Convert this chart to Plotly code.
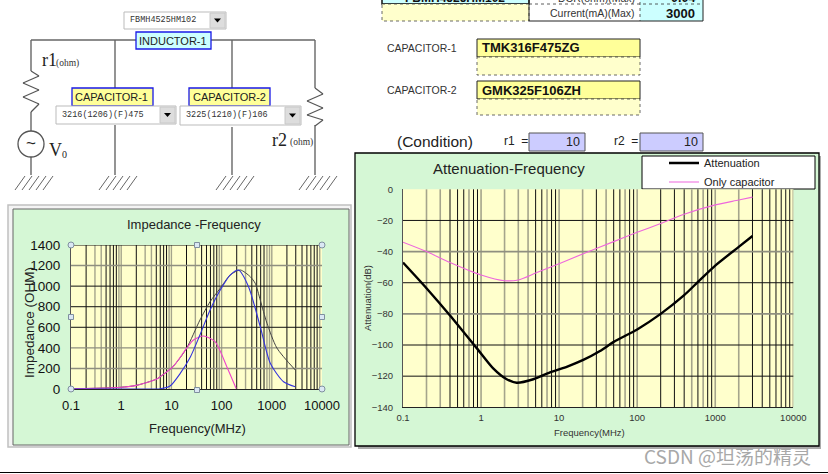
import plotly.graph_objects as go

W, H = 828, 474

# Impedance chart data
imp_z_freq = [0.1, 0.2, 0.5, 1, 2, 5, 6, 11, 20, 37, 59, 94, 148, 235, 372, 468, 589, 800, 1265, 2930]
imp_z = [2, 5, 10, 17, 35, 95, 120, 223, 395, 670, 849, 979, 1108, 1157, 1092, 1027, 865, 640, 398, 185]
imp_r_freq = [0.1, 1, 3, 6, 9.4, 15, 24, 37, 59, 94, 148, 217, 344, 589, 932, 1714, 2930]
imp_r = [0, 0, 0, 3, 29, 152, 314, 525, 768, 962, 1108, 1157, 995, 606, 250, 71, 22]
imp_x_freq = [0.1, 0.2, 0.5, 1, 2, 5, 6, 11, 20, 27.5, 43.6, 74, 127, 195]
imp_x = [2, 5, 10, 17, 35, 95, 120, 223, 395, 476, 515, 460, 217, 5]

# Attenuation chart data
att_total_freq = [0.1, 0.2, 0.4, 0.88, 1.43, 2.13, 2.86, 4.67, 7.64, 12.5, 20.4, 33.4, 50, 100, 200, 400, 600, 1000, 2000, 3000]
att_total = [-47, -63.5, -81, -102, -115, -122, -124.2, -122, -117.6, -114, -109.6, -103.9, -98, -90, -80, -68, -59.5, -49, -37, -30]
att_cap_freq = [0.1, 0.2, 0.4, 1, 2, 3, 5, 10, 20, 50, 100, 200, 400, 1000, 2000, 3000]
att_cap = [-34, -40, -47, -55, -58.7, -58.2, -53.8, -47.8, -41.5, -33.6, -27.6, -22, -16, -10, -6.9, -5]

imp_yticks = [0, 200, 400, 600, 800, 1000, 1200, 1400]
att_yticks = [0, -20, -40, -60, -80, -100, -120, -140]
x_ticks = [0.1, 1, 10, 100, 1000, 10000]
x_ticklabels = ["0.1", "1", "10", "100", "1000", "10000"]

# Grid lines: dark and faded (as they appear in the downsampled screenshot)
imp_grid_dark = [0.2, 0.5, 0.6, 0.7, 0.8, 2, 5, 6, 7, 8, 20, 40, 50, 60, 70, 80, 200, 400, 500, 600, 700, 2000, 3000, 4000, 5000, 6000, 7000, 8000]
imp_grid_soft = [0.3, 0.4, 0.9, 1, 3, 4, 9, 10, 30, 90, 100, 300, 800, 900, 1000, 9000]
imp_h_dark = [600, 800, 1000, 1400]
imp_h_soft = [200, 400, 1200]
att_grid_dark = [0.4, 0.5, 0.6, 0.8, 0.9, 5, 6, 8, 9, 30, 50, 60, 80, 90, 200, 300, 400, 600, 800, 900, 3000, 4000, 5000, 6000, 7000, 8000, 9000]
att_grid_soft = [0.2, 0.3, 0.7, 1, 2, 3, 4, 7, 10, 20, 40, 70, 100, 500, 700, 1000, 2000, 10000]
att_h_dark = [-20, -60, -100, -120]
att_h_soft = [-40, -80]

def px(x): return x / W
def py(y): return 1 - y / H

shapes, notes = [], []

def rect(x0, y0, x1, y1, fill=None, line="#000000", width=1, dash=None, layer="below"):
    shapes.append(dict(type="rect", xref="paper", yref="paper", x0=px(x0), x1=px(x1), y0=py(y0), y1=py(y1),
                       fillcolor=fill or "rgba(0,0,0,0)", layer=layer,
                       line=dict(color=line if width else "rgba(0,0,0,0)", width=width, dash=dash or "solid")))

def seg(x0, y0, x1, y1, color="#666666", width=1.4, layer="below", dash="solid"):
    shapes.append(dict(type="line", xref="paper", yref="paper", x0=px(x0), x1=px(x1), y0=py(y0), y1=py(y1),
                       layer=layer, line=dict(color=color, width=width, dash=dash)))

def poly(points, color="#555555", width=1.2):
    for (a, b), (c, d) in zip(points, points[1:]):
        seg(a, b, c, d, color, width)

def text(x, y, s, size=10, color="#222222", font="Liberation Sans", anchor="center", rot=0):
    notes.append(dict(xref="paper", yref="paper", x=px(x), y=py(y), text=s, showarrow=False, textangle=rot,
                      xanchor=anchor, yanchor="middle", font=dict(size=size, color=color, family=font)))

def ground(x):
    for i in range(5):
        a = x - 15 + i * 7
        seg(a + 9, 176, a - 1, 190, "#666666", 1)

def dropdown(x0, y0, x1, y1, s):
    rect(x0, y0, x1, y1, "#ffffff", "#bbbbbb", 1)
    rect(x1 - 16, y0 + 1, x1 - 1, y1 - 1, "#dddddd", "#c8c8c8", 1)
    shapes.append(dict(type="path", xref="paper", yref="paper", fillcolor="#000000", line=dict(width=0),
                       path=f"M {px(x1-12)} {py((y0+y1)/2-2)} L {px(x1-5)} {py((y0+y1)/2-2)} L {px(x1-8.5)} {py((y0+y1)/2+2)} Z"))
    text(x0 + 4, (y0 + y1) / 2, s, 8.5, "#333333", "Liberation Mono", "left")

# --- schematic ---
seg(31, 40, 315, 40)
seg(31, 40, 31, 71); seg(31, 112, 31, 131); seg(31, 156, 31, 175)
seg(115, 40, 115, 88); seg(115, 125, 115, 175)
seg(232, 40, 232, 88); seg(232, 127, 232, 175)
seg(315, 40, 315, 88); seg(315, 125, 315, 175)
poly([(31, 71), (39, 76), (23, 83), (39, 90), (23, 97), (39, 104), (31, 112)])
poly([(315, 88), (323, 94), (307, 101), (323, 108), (307, 115), (323, 120), (315, 126)])
shapes.append(dict(type="circle", xref="paper", yref="paper", x0=px(18), x1=px(44), y0=py(157), y1=py(131),
                   fillcolor="#ffffff", line=dict(color="#555555", width=1.3)))
for gx in (31, 115, 232, 315):
    ground(gx)
text(31, 143, "~", 17, "#222222", "Liberation Sans")
text(40, 60, "r1", 18, "#222222", "Liberation Serif", "left")
text(54, 63, "(ohm)", 9.5, "#333333", "Liberation Serif", "left")
text(47, 150, "V", 18, "#222222", "Liberation Serif", "left")
text(60, 154, "0", 10, "#222222", "Liberation Serif", "left")
text(270, 140, "r2", 18, "#222222", "Liberation Serif", "left")
text(288, 142, "(ohm)", 9.5, "#333333", "Liberation Serif", "left")

dropdown(124, 12, 226, 29, "FBMH4525HM102")
rect(136, 32, 211, 49, "#ccffff", "#1a1ae6", 1.3)
text(173, 41, "INDUCTOR-1", 11, "#222222")
rect(72, 88, 153, 106, "#ffff99", "#1a1ae6", 1.3)
text(112, 97, "CAPACITOR-1", 11, "#222222")
rect(189, 88, 270, 106, "#ffff99", "#1a1ae6", 1.3)
text(229, 97, "CAPACITOR-2", 11, "#222222")
dropdown(56, 106, 176, 124, "3216(1206)(F)475")
dropdown(180, 106, 301, 125, "3225(1210)(F)106")

# --- top-right cells ---
rect(382, -8, 529, 4, "#ccffff", "#000000", 1.4)
text(455, -2, "<b>FBMH4525HM102</b>", 12, "#111111", anchor="center")
rect(382, 4, 529, 21, "#ffffcc", "#444444", 0.8, "dot")
rect(640, -10, 703, 4, "#ccffff", None, 0)
rect(640, 4, 703, 21, "#ccffff", None, 0)
rect(529, -10, 703, 21, None, "#222222", 1)
seg(529, 4, 703, 4, "#333333", 0.8, dash="dot")
seg(640, -10, 640, 21, "#333333", 0.8, dash="dot")
text(637, -2, "DCR(ohm)(Max)", 10.5, "#333333", anchor="right")
text(697, -2, "<b>0.04</b>", 12.5, "#111111", anchor="right")
text(637, 13, "Current(mA)(Max)", 10.5, "#333333", anchor="right")
text(697, 13, "<b>3000</b>", 13, "#111111", anchor="right")
for y0, y1, y2, lab, val in [(39, 57, 75, "CAPACITOR-1", "TMK316F475ZG"), (81, 99, 115, "CAPACITOR-2", "GMK325F106ZH")]:
    rect(477, y0, 640, y1, "#ffff99", "#222222", 1)
    rect(477, y1, 640, y2, "#ffffcc", "#444444", 0.8, "dot")
    text(385, (y0 + y1) / 2, lab, 10.5, "#333333", anchor="left")
    text(480, (y0 + y1) / 2, f"<b>{val}</b>", 13, "#111111", anchor="left")
text(395, 141, "(Condition)", 15.5, "#222222", anchor="left")
text(502, 141, "r1&nbsp;&nbsp;=", 12, "#222222", anchor="left")
text(612, 141, "r2&nbsp;&nbsp;=", 12, "#222222", anchor="left")
rect(529, 133, 585, 151, "#ccccff", "#555555", 1)
rect(640, 133, 703, 151, "#ccccff", "#555555", 1)
text(582, 142, "10", 12.5, "#222222", anchor="right")
text(700, 142, "10", 12.5, "#222222", anchor="right")

# --- chart frames ---
rect(8, 205, 351, 447, "#f4f4f4", "#c0c0c0", 1.5)
rect(13, 209, 349, 445, "#d5f7d5", "#666666", 1)
rect(358, 156, 821, 449, "#aaaaaa", None, 0)
rect(355, 153, 819, 446, "#d5f7d5", "#000000", 1.3)
rect(642, 156, 815, 189, "#ffffff", "#000000", 1)
seg(0, 472.5, 828, 472.5, "#000000", 1.2)

# --- plot-area fills drawn behind the grid ---
shapes.append(dict(type="rect", xref="paper", yref="paper", x0=px(71), x1=px(322), y0=py(389), y1=py(245), fillcolor="#ffffcc", layer="below", line=dict(width=0)))
shapes.append(dict(type="rect", xref="paper", yref="paper", x0=px(403), x1=px(793.3), y0=py(407.3), y1=py(189.3), fillcolor="#ffffcc", layer="below", line=dict(width=0)))

# --- chart gridlines ---
def grids(dark_v, soft_v, dark_h, soft_h, xa, ya, soft_w):
    for vals, c, w in ((soft_v, "#a5a58c", soft_w), (dark_v, "#111111", 1)):
        for v in vals:
            shapes.append(dict(type="line", xref=xa, yref=ya + " domain", x0=v, x1=v, y0=0, y1=1,
                               layer="below", line=dict(color=c, width=w)))
    for vals, c, w in ((soft_h, "#8f8f80", soft_w), (dark_h, "#111111", 1)):
        for v in vals:
            shapes.append(dict(type="line", xref=xa + " domain", yref=ya, x0=0, x1=1, y0=v, y1=v,
                               layer="below", line=dict(color=c, width=w)))

grids(imp_grid_dark, imp_grid_soft, imp_h_dark, imp_h_soft, "x", "y", 1.4)
grids(att_grid_dark, att_grid_soft, att_h_dark, att_h_soft, "x2", "y2", 1.6)

# --- chart texts ---
text(194, 224, "Impedance -Frequency", 13, "#222222")
text(197, 428, "Frequency(MHz)", 13, "#222222")
text(29, 323, "Impedance (OHM)", 13.5, "#222222", rot=-90)
text(509, 168, "Attenuation-Frequency", 15, "#222222")
text(589, 432, "Frequency(MHz)", 9.5, "#333333")
text(367, 298, "Attenuation(dB)", 9.5, "#333333", rot=-90)
text(727, 455, "CSDN @坦荡的精灵", 19, "#a8a8a8", "Noto Sans CJK SC")

# --- selection handles (on top) ---
for hx, hy in [(71, 245), (322, 245), (71, 389), (322, 389)]:
    shapes.append(dict(type="circle", xref="paper", yref="paper", x0=px(hx-3), x1=px(hx+3), y0=py(hy+3), y1=py(hy-3),
                       fillcolor="#dbe8f4", layer="above", line=dict(color="#7f8f9f", width=1)))
for hx, hy in [(197, 245), (71, 317), (322, 317), (197, 390)]:
    shapes.append(dict(type="rect", xref="paper", yref="paper", x0=px(hx-2.5), x1=px(hx+2.5), y0=py(hy+2.5), y1=py(hy-2.5),
                       fillcolor="#dbe8f4", layer="above", line=dict(color="#7f8f9f", width=1)))

sm = 0.7
fig = go.Figure()
fig.add_trace(go.Scatter(x=imp_z_freq, y=imp_z, mode="lines", line=dict(color="#444444", width=1, shape="spline", smoothing=sm), xaxis="x", yaxis="y", showlegend=False))
fig.add_trace(go.Scatter(x=imp_x_freq, y=imp_x, mode="lines", line=dict(color="#ee44cc", width=1.1, shape="spline", smoothing=sm), xaxis="x", yaxis="y", showlegend=False))
fig.add_trace(go.Scatter(x=imp_r_freq, y=imp_r, mode="lines", line=dict(color="#3333dd", width=1.1, shape="spline", smoothing=sm), xaxis="x", yaxis="y", showlegend=False))
fig.add_trace(go.Scatter(x=att_total_freq, y=att_total, name="Attenuation", mode="lines", line=dict(color="#000000", width=2.4, shape="spline", smoothing=sm), xaxis="x2", yaxis="y2"))
fig.add_trace(go.Scatter(x=att_cap_freq, y=att_cap, name="Only capacitor", mode="lines", line=dict(color="#ee66dd", width=1.1, shape="spline", smoothing=sm), xaxis="x2", yaxis="y2"))

def xaxis(dom, anchor, size, col, ticklen):
    return dict(type="log", domain=dom, anchor=anchor, range=[-1, 4], tickmode="array", tickvals=x_ticks, ticktext=x_ticklabels,
                showgrid=False, zeroline=False, showline=True, linecolor="#222222", ticks="outside", ticklen=ticklen,
                tickcolor="rgba(0,0,0,0)", tickfont=dict(size=size, family="Liberation Sans", color=col))

def yaxis(dom, anchor, rng, vals, size, col, ticklen):
    return dict(domain=dom, anchor=anchor, range=rng, tickmode="array", tickvals=vals, showgrid=False, zeroline=False,
                showline=True, linecolor="#555555", ticks="outside", ticklen=ticklen, tickcolor="rgba(0,0,0,0)",
                tickfont=dict(size=size, family="Liberation Sans", color=col))

fig.update_layout(
    width=W, height=H, margin=dict(l=0, r=0, t=0, b=0, autoexpand=False), paper_bgcolor="#ffffff", plot_bgcolor="rgba(0,0,0,0)",
    xaxis=xaxis([px(71), px(322)], "y", 13, "#111111", 4),
    yaxis=yaxis([py(389), py(245)], "x", [0, 1400], imp_yticks, 13.5, "#111111", 7),
    xaxis2=xaxis([px(403), px(793.3)], "y2", 9.5, "#333333", 1),
    yaxis2=yaxis([py(407.3), py(189.3)], "x2", [-140, 0], att_yticks, 9.5, "#333333", 7),
    legend=dict(x=px(664), y=py(148.5), xanchor="left", yanchor="top", bgcolor="rgba(0,0,0,0)", borderwidth=0,
                font=dict(size=11, family="Liberation Sans", color="#222222"), itemwidth=30, tracegroupgap=0),
    shapes=shapes, annotations=notes,
)
fig.write_html("out.html", config=dict(displayModeBar=False),
               post_script="document.body.style.margin='0';document.documentElement.style.overflow='hidden';")
